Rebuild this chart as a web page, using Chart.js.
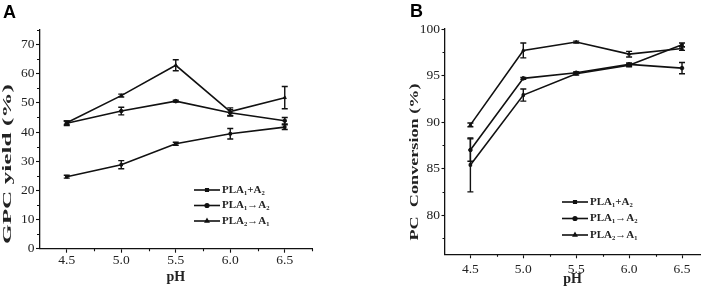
<!DOCTYPE html>
<html><head><meta charset="utf-8">
<script src="https://cdn.jsdelivr.net/npm/chart.js@4.4.1/dist/chart.umd.min.js"></script>
<style>
html,body{margin:0;padding:0;background:#fff;width:710px;height:286px;overflow:hidden}
.p{position:absolute;top:0}
</style></head><body>
<div class="p" style="left:0"><canvas id="cA" width="355" height="286"></canvas></div>
<div class="p" style="left:355px"><canvas id="cB" width="355" height="286"></canvas></div>
<script>
// ---- data ----
const pH = [4.5, 5.0, 5.5, 6.0, 6.5];
const seriesLabels = ['PLA\u2081+A\u2082', 'PLA\u2081\u2192A\u2082', 'PLA\u2082\u2192A\u2081'];

// Panel A: GPC yield (%)
const gpc_PLA1plusA2 = [24.7, 28.8, 36.0, 39.4, 41.7];
const gpc_PLA1plusA2_err = [0.5, 1.4, 0.5, 1.8, 0.8];
const gpc_PLA1toA2 = [43.0, 47.2, 50.6, 46.6, 43.9];
const gpc_PLA1toA2_err = [0.8, 1.3, 0.3, 1.1, 1.1];
const gpc_PLA2toA1 = [43.2, 52.5, 62.9, 47.0, 51.8];
const gpc_PLA2toA1_err = [0.6, 0.5, 1.9, 1.3, 3.8];

// Panel B: PC Conversion (%)
const pc_PLA1plusA2 = [85.4, 92.9, 95.2, 96.1, 98.3];
const pc_PLA1plusA2_err = [2.9, 0.65, 0.15, 0.15, 0.2];
const pc_PLA1toA2 = [87.0, 94.7, 95.3, 96.2, 95.8];
const pc_PLA1toA2_err = [1.2, 0.1, 0.1, 0.15, 0.6];
const pc_PLA2toA1 = [89.7, 97.7, 98.6, 97.3, 97.9];
const pc_PLA2toA1_err = [0.2, 0.8, 0.1, 0.3, 0.2];

// ticks
const xMajorTicks = [4.5, 5.0, 5.5, 6.0, 6.5];
const xMinorTicks = [4.75, 5.25, 5.75, 6.25, 6.75];
const gpcTicks = [0, 10, 20, 30, 40, 50, 60, 70];
const gpcMinorTicks = [5, 15, 25, 35, 45, 55, 65, 75];
const pcTicks = [80, 85, 90, 95, 100];
const pcMinorTicks = [77.5, 82.5, 87.5, 92.5, 97.5];

const pointStyles = ['rect', 'circle', 'triangle'];
const INK = '#111';
const TXT = '#222';

// ---- plugins ----
const errorBars = {
  id: 'errorBars',
  afterDatasetsDraw(chart) {
    const ctx = chart.ctx, ys = chart.scales.y;
    ctx.save();
    ctx.strokeStyle = INK; ctx.lineWidth = 1.4;
    chart.data.datasets.forEach((ds, di) => {
      const meta = chart.getDatasetMeta(di);
      meta.data.forEach((pt, i) => {
        const e = ds.errors[i], v = ds.data[i].y;
        const y1 = ys.getPixelForValue(v + e), y2 = ys.getPixelForValue(v - e);
        ctx.beginPath();
        ctx.moveTo(pt.x, y1); ctx.lineTo(pt.x, y2);
        ctx.moveTo(pt.x - 3, y1); ctx.lineTo(pt.x + 3, y1);
        ctx.moveTo(pt.x - 3, y2); ctx.lineTo(pt.x + 3, y2);
        ctx.stroke();
      });
    });
    ctx.restore();
  }
};

const minorTicks = {
  id: 'minorTicks',
  afterDraw(chart, args, opts) {
    const ctx = chart.ctx, xs = chart.scales.x, ys = chart.scales.y;
    ctx.save();
    ctx.strokeStyle = INK; ctx.lineWidth = 1.1;
    ctx.beginPath();
    opts.x.forEach(v => {
      if (v < xs.min || v > xs.max) return;
      const px = Math.round(xs.getPixelForValue(v)) + 0.5;
      ctx.moveTo(px, xs.top); ctx.lineTo(px, xs.top + 2.5);
    });
    opts.y.forEach(v => {
      if (v < ys.min || v > ys.max) return;
      const py = Math.round(ys.getPixelForValue(v)) + 0.5;
      ctx.moveTo(ys.right, py); ctx.lineTo(ys.right - 2.5, py);
    });
    ctx.stroke();
    ctx.restore();
  }
};

const decorations = {
  id: 'decorations',
  afterDraw(chart, args, opts) {
    const ctx = chart.ctx;
    ctx.save();
    // panel letter
    ctx.fillStyle = '#000';
    ctx.font = 'bold 18px "Liberation Sans", Arial, sans-serif';
    ctx.textAlign = 'left'; ctx.textBaseline = 'alphabetic';
    ctx.fillText(opts.letter, opts.letterX, opts.letterY);
    // stretched y title
    ctx.fillStyle = TXT;
    ctx.font = 'bold 13.5px "Liberation Serif", "Times New Roman", serif';
    ctx.translate(opts.titleX, opts.titleY);
    ctx.rotate(-Math.PI / 2);
    const w = ctx.measureText(opts.title).width;
    ctx.scale(opts.titleLen / w, 1);
    ctx.textAlign = 'center'; ctx.textBaseline = 'middle';
    ctx.fillText(opts.title, 0, 0);
    ctx.restore();

    // legend
    ctx.save();
    ctx.font = 'bold 11px "Liberation Serif", "Times New Roman", serif';
    ctx.textAlign = 'left'; ctx.textBaseline = 'middle';
    chart.data.datasets.forEach((ds, i) => {
      const y = opts.legY + i * opts.legGap;
      ctx.strokeStyle = INK; ctx.lineWidth = 1.6;
      ctx.beginPath(); ctx.moveTo(opts.legX, y); ctx.lineTo(opts.legX + opts.legLen, y); ctx.stroke();
      ctx.fillStyle = INK;
      if (Chart.helpers && Chart.helpers.drawPoint) {
        Chart.helpers.drawPoint(ctx, {pointStyle: ds.pointStyle, radius: 1.8, borderWidth: 1}, opts.legX + opts.legLen / 2, y);
      }
      ctx.fillStyle = TXT;
      ctx.fillText(ds.label, opts.legX + opts.legLen + 2, y);
    });
    ctx.restore();
  }
};

function makeDatasets(seriesList) {
  return seriesList.map((s, i) => ({
    label: seriesLabels[i],
    data: pH.map((x, j) => ({x: x, y: s[0][j]})),
    errors: s[1],
    borderColor: INK, backgroundColor: INK,
    pointBackgroundColor: INK, pointBorderColor: INK,
    borderWidth: 1.6, pointRadius: 1.8, pointBorderWidth: 1, pointStyle: pointStyles[i],
    tension: 0
  }));
}

function makeChart(id, cfg) {
  const tickFont = {family: '"Liberation Serif", "Times New Roman", serif', size: 13.5};
  return new Chart(document.getElementById(id), {
    type: 'line',
    data: {datasets: makeDatasets(cfg.series)},
    options: {
      responsive: false, animation: false, devicePixelRatio: 1,
      layout: {padding: cfg.padding},
      plugins: {
        legend: {display: false}, tooltip: {enabled: false},
        minorTicks: {x: xMinorTicks, y: cfg.yMinor},
        decorations: cfg.deco
      },
      scales: {
        x: {
          type: 'linear', position: 'bottom', min: cfg.xMin, max: cfg.xMax,
          afterBuildTicks: s => { s.ticks = xMajorTicks.map(v => ({value: v})); },
          afterFit: s => { s.height = cfg.xHeight; },
          grid: {display: true, drawOnChartArea: false, drawTicks: true, tickLength: 4, tickColor: INK, tickWidth: 1.1},
          border: {display: true, color: INK, width: 1.3},
          ticks: {color: TXT, font: tickFont, padding: cfg.xTickPad, maxRotation: 0, autoSkip: false,
                  callback: v => Number(v).toFixed(1)},
          title: {display: true, text: 'pH', color: TXT,
                  font: {family: '"Liberation Serif", "Times New Roman", serif', size: 14, weight: 'bold', lineHeight: cfg.pHLine},
                  padding: {top: 0, bottom: 0}}
        },
        y: {
          type: 'linear', position: 'left', min: cfg.yMin, max: cfg.yMax,
          afterBuildTicks: s => { s.ticks = cfg.yTicks.map(v => ({value: v})); },
          afterFit: s => { s.width = cfg.yWidth; },
          grid: {display: true, drawOnChartArea: false, drawTicks: true, tickLength: 3.5, tickColor: INK, tickWidth: 1.1},
          border: {display: true, color: INK, width: 1.3},
          ticks: {color: TXT, font: tickFont, padding: 1.5, autoSkip: false},
          title: {display: false}
        }
      }
    },
    plugins: [errorBars, minorTicks, decorations]
  });
}

makeChart('cA', {
  series: [[gpc_PLA1plusA2, gpc_PLA1plusA2_err], [gpc_PLA1toA2, gpc_PLA1toA2_err], [gpc_PLA2toA1, gpc_PLA2toA1_err]],
  padding: {left: 0, right: 43, top: 30, bottom: 0},
  xMin: 4.25, xMax: 6.75, yMin: 0, yMax: 75,
  yTicks: gpcTicks, yMinor: gpcMinorTicks,
  xHeight: 37.3, yWidth: 39.5, xTickPad: 0, pHLine: 1.2,
  deco: {letter: 'A', letterX: 3, letterY: 18, title: 'GPC yield (%)', titleX: 8, titleY: 164, titleLen: 160,
         legX: 194, legLen: 26, legY: 190, legGap: 15.5}
});

makeChart('cB', {
  series: [[pc_PLA1plusA2, pc_PLA1plusA2_err], [pc_PLA1toA2, pc_PLA1toA2_err], [pc_PLA2toA1, pc_PLA2toA1_err]],
  padding: {left: 0, right: 10, top: 29, bottom: 0},
  xMin: 4.26, xMax: 6.67, yMin: 75.8, yMax: 100,
  yTicks: pcTicks, yMinor: pcMinorTicks,
  xHeight: 31.7, yWidth: 90, xTickPad: 3.5, pHLine: 0.9,
  deco: {letter: 'B', letterX: 55, letterY: 17, title: 'PC  Conversion (%)', titleX: 60, titleY: 162, titleLen: 157,
         legX: 207, legLen: 26, legY: 202, legGap: 16.5}
});
</script>
</body></html>
